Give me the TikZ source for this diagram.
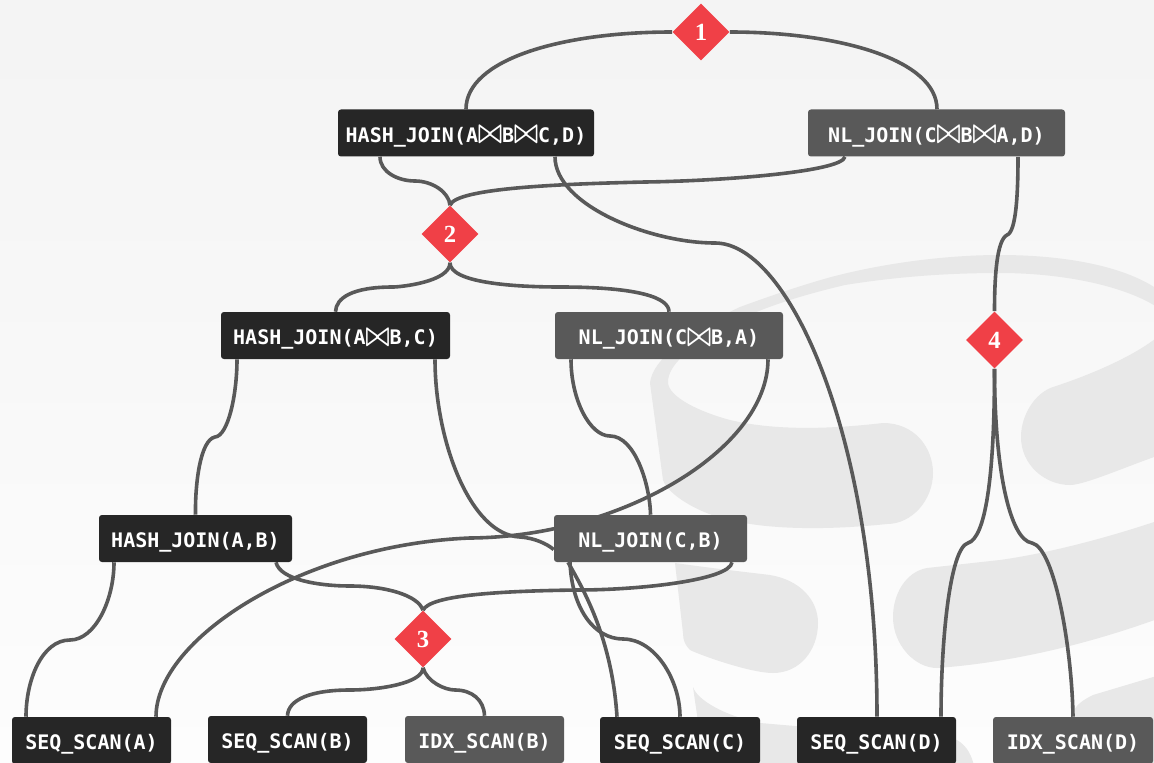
\documentclass[tikz,border=0pt]{standalone}
\usepackage{fontspec}
\usetikzlibrary{shapes.geometric,calc,backgrounds}
\setmonofont{DejaVu Sans Mono}
\newfontfamily\numfont{Liberation Serif}
\definecolor{darkop}{HTML}{262626}
\definecolor{greyop}{HTML}{595959}
\definecolor{wire}{HTML}{595959}
\definecolor{redmark}{HTML}{F04047}
\definecolor{wmark}{HTML}{E8E8E8}
\newcommand{\btie}{\makebox[18pt]{\raisebox{-0.3pt}{\resizebox{18.4pt}{11.6pt}{\boldmath$\bowtie$}}}}
\tikzset{
  opbox/.style={rectangle,rounded corners=2.2pt,inner sep=0pt,text=white,
    font=\ttfamily\bfseries\fontsize{15pt}{15pt}\selectfont,text height=14pt,text depth=0.3pt,minimum height=35.25pt},
  darkbox/.style={opbox,fill=darkop},
  greybox/.style={opbox,fill=greyop},
  choice/.style={diamond,fill=redmark,text=white,inner sep=0pt,minimum width=42.75pt,minimum height=42.75pt,aspect=1,
    font=\numfont\bfseries\fontsize{18.5pt}{18.5pt}\selectfont},
  link/.style={draw=wire,line width=2.7pt},
  wm/.style={fill=wmark,draw=none}
}
\begin{document}
\begin{tikzpicture}[x=0.75pt,y=-0.75pt]
\useasboundingbox (0,0) rectangle (1154,763);
% nodes
\node[darkbox,minimum width=192pt] (hjA) at (466,133) {HASH\_JOIN(A\btie B\btie C,D)};
\node[greybox,minimum width=192.75pt] (nlA) at (936.5,133) {NL\_JOIN(C\btie B\btie A,D)};
\node[darkbox,minimum width=171.75pt] (hjB) at (335.5,335.5) {HASH\_JOIN(A\btie B,C)};
\node[greybox,minimum width=171pt] (nlB) at (669,335.5) {NL\_JOIN(C\btie B,A)};
\node[darkbox,minimum width=144.75pt] (hjC) at (195.5,538.5) {HASH\_JOIN(A,B)};
\node[greybox,minimum width=144.75pt] (nlC) at (650.5,538.5) {NL\_JOIN(C,B)};
\node[darkbox,minimum width=119.25pt] (sa) at (91.5,740.5) {SEQ\_SCAN(A)};
\node[darkbox,minimum width=119.25pt] (sb) at (287.5,739.5) {SEQ\_SCAN(B)};
\node[greybox,minimum width=119.25pt] (ib) at (484.5,739.5) {IDX\_SCAN(B)};
\node[darkbox,minimum width=120pt] (sc) at (680,740.5) {SEQ\_SCAN(C)};
\node[darkbox,minimum width=119.25pt] (sd) at (876.5,740.5) {SEQ\_SCAN(D)};
\node[greybox,minimum width=120pt] (id) at (1073,740.5) {IDX\_SCAN(D)};
\node[choice] (c1) at (701,32) {1};
\node[choice] (c2) at (450,234) {2};
\node[choice] (c3) at (423,639) {3};
\node[choice] (c4) at (994.5,340) {4};
\begin{pgfonlayer}{background}
% page
\shade[top color=black!4.5,bottom color=black!0.8] (0,0) rectangle (1154,763);
% watermark
\path[wm] (740,307) .. controls (770,296) and (805,284) .. (835,276)
  .. controls (890,262) and (950,255) .. (1000,255)
  .. controls (1050,255) and (1120,262) .. (1160,291) -- (1160,309)
  .. controls (1125,285) and (1060,273) .. (1000,273)
  .. controls (945,273) and (895,277) .. (845,285)
  .. controls (790,298) and (750,312) .. (715,332)
  .. controls (690,348) and (668,365) .. (668,382)
  .. controls (668,397) and (700,412) .. (730,420)
  .. controls (780,432) and (840,428) .. (883,423)
  .. controls (915,423) and (933,448) .. (933,473)
  .. controls (933,500) and (912,524) .. (887,524)
  .. controls (830,530) and (770,530) .. (730,520)
  .. controls (700,514) and (668,495) .. (663,480)
  -- (650,383)
  .. controls (652,360) and (690,330) .. (740,307) -- cycle;
\path[wm] (675,563) .. controls (710,568) and (745,572) .. (770,575)
  .. controls (800,580) and (818,600) .. (818,623)
  .. controls (818,650) and (800,673) .. (773,673)
  .. controls (750,673) and (700,655) .. (690,650)
  .. controls (685,645) and (683,640) .. (683,633) -- cycle;
\path[wm] (1160,335) .. controls (1135,356) and (1090,375) .. (1053,387)
  .. controls (1035,393) and (1021,415) .. (1021,437)
  .. controls (1021,465) and (1045,485) .. (1070,485)
  .. controls (1085,485) and (1130,465) .. (1160,455) -- cycle;
\path[wm] (1160,520) .. controls (1110,537) and (1050,553) .. (1000,560)
  -- (927,568) .. controls (905,572) and (893,595) .. (893,617)
  .. controls (893,645) and (915,668) .. (937,668)
  .. controls (1020,662) and (1100,640) .. (1160,618) -- cycle;
\path[wm] (1160,675) -- (1093,695) .. controls (1083,700) and (1075,705) .. (1072,715) -- (1072,770) -- (1160,770) -- cycle;
\path[wm] (693,687) .. controls (697,700) and (725,716) .. (760,723)
  -- (957,740) .. controls (967,746) and (972,755) .. (975,770) -- (705,770) -- cycle;
% connectors
\draw[link] (c1.west) .. controls (560,32) and (466,60) .. (hjA.north);
\draw[link] (c1.east) .. controls (840,32) and (937,60) .. ($(nlA.north)+(0.5,0)$);
\draw[link] ($(hjA.south)+(-86,0)$) .. controls (380,172) and (398,181) .. (415,181)
  .. controls (432,181) and (449,192) .. (c2.north);
\draw[link] ($(nlA.south)+(-91.5,0)$) .. controls (842,172) and (720,181) .. (645,182)
  .. controls (560,184) and (456,188) .. (c2.north);
\draw[link] ($(hjA.south)+(89,0)$) .. controls (555,205) and (650,243) .. (715,243)
  .. controls (790,243) and (877,440) .. ($(sd.north)+(0.5,0)$);
\draw[link] ($(nlA.south)+(81.5,0)$) .. controls (1018,195) and (1016,232) .. (1007,235)
  .. controls (997,240) and (994.5,275) .. (c4.north);
\draw[link] (c2.south) .. controls (450,282) and (400,287) .. (393,287)
  .. controls (352,287) and (336,298) .. (hjB.north);
\draw[link] (c2.south) .. controls (450,283) and (515,287) .. (560,287)
  .. controls (640,287) and (669,298) .. (nlB.north);
\draw[link] ($(hjB.south)+(-98.5,0)$) .. controls (237,395) and (228,436) .. (215,437)
  .. controls (200,440) and (195,485) .. (hjC.north);
\draw[link] ($(hjB.south)+(99.5,0)$) .. controls (435,440) and (470,535) .. (520,537)
  .. controls (535,538) and (547,544) .. ($(nlC.west)+(0,11)$);
\draw[link] ($(nlB.south)+(-98,0)$) .. controls (571,400) and (590,436) .. (610,436)
  .. controls (635,436) and (650,485) .. (nlC.north);
\draw[link] ($(nlB.south)+(99,0)$) .. controls (768,450) and (620,537) .. (470,538)
  .. controls (300,545) and (156,640) .. ($(sa.north)+(64.5,0)$);
\draw[link] ($(hjC.south)+(-81.5,0)$) .. controls (114,600) and (95,640) .. (70,640)
  .. controls (42,640) and (26,680) .. ($(sa.north)+(-65.5,0)$);
\draw[link] ($(hjC.south)+(80.5,0)$) .. controls (280,580) and (320,586) .. (350,586)
  .. controls (385,586) and (418,595) .. (c3.north);
\draw[link] ($(nlC.south)+(81.5,0)$) .. controls (730,580) and (640,590) .. (578,590)
  .. controls (500,591) and (430,595) .. (c3.north);
\draw[link] (c3.south) .. controls (423,683) and (380,690) .. (350,690)
  .. controls (310,690) and (288,700) .. (sb.north);
\draw[link] (c3.south) .. controls (427,682) and (445,690) .. (455,690)
  .. controls (472,690) and (484,700) .. (ib.north);
\draw[link] ($(nlC.south)+(-82.5,0)$) .. controls (585,592) and (612,640) .. ($(sc.north)+(-63,0)$);
\draw[link] ($(nlC.south)+(-80.5,0)$) .. controls (572,610) and (595,639) .. (623,639)
  .. controls (655,639) and (680,680) .. (sc.north);
\draw[link] (c4.south) .. controls (994.5,480) and (985,538) .. (968,543)
  .. controls (950,548) and (941,640) .. ($(sd.north)+(64.5,0)$);
\draw[link] (c4.south) .. controls (994.5,470) and (1010,540) .. (1032,543)
  .. controls (1055,548) and (1072,650) .. (id.north);
\end{pgfonlayer}
\end{tikzpicture}
\end{document}
